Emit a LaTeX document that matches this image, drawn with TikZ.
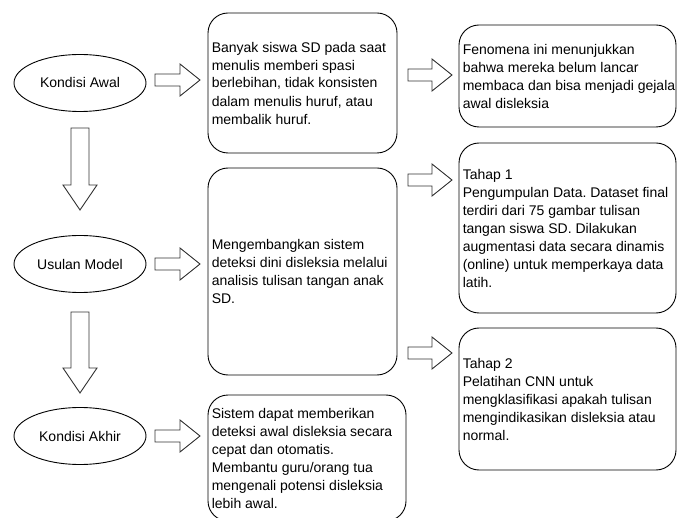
\documentclass[tikz,border=0pt]{standalone}
\usepackage{fontspec}
\setmainfont{Liberation Sans}
\usetikzlibrary{shapes.geometric}
\frenchspacing
\begin{document}
\begin{tikzpicture}[x=1pt,y=-1pt,
  txt/.style={font=\fontsize{14}{18}\selectfont},
  ell/.style={ellipse,draw=black,line width=0.9pt,minimum width=132pt,minimum height=57pt,inner sep=0pt,txt},
  box/.style={draw=black,line width=0.9pt,rounded corners=20pt,inner sep=0pt},
  btxt/.style={txt,align=left,anchor=west,inner sep=0pt,xshift=4pt},
  blk/.style={draw=black!80,line width=0.9pt,fill=white,line join=miter}]
\useasboundingbox (0,0) rectangle (677,518);
\clip (0,0) rectangle (677,518);
% horizontal block arrow: tail x, centre y, length
\newcommand{\harr}[3]{\draw[blk] (#1,#2-6) -- (#1+#3-20,#2-6) -- (#1+#3-20,#2-16) -- (#1+#3,#2) -- (#1+#3-20,#2+16) -- (#1+#3-20,#2+6) -- (#1,#2+6) -- cycle;}
% vertical block arrow: centre x, top y, bottom y
\newcommand{\varr}[3]{\draw[blk] (#1-9,#2) -- (#1+9,#2) -- (#1+9,#3-25) -- (#1+17,#3-25) -- (#1,#3) -- (#1-17,#3-25) -- (#1-9,#3-25) -- (#1-9,#2) -- cycle;}

\node[ell] (ka) at (80,83) {Kondisi Awal};
\node[ell] (um) at (80,264) {Usulan Model};
\node[ell] (kk) at (80,436) {Kondisi Akhir};

\node[box,minimum width=189pt,minimum height=140pt] (b1) at (302.5,83) {};
\node[btxt] at (b1.west) {Banyak siswa SD pada saat\\menulis memberi spasi\\berlebihan, tidak konsisten\\dalam menulis huruf, atau\\membalik huruf.};

\node[box,minimum width=189pt,minimum height=207pt] (b2) at (302.5,271.5) {};
\node[btxt] at (b2.west) {Mengembangkan sistem\\deteksi dini disleksia melalui\\analisis tulisan tangan anak\\SD.};

\node[box,minimum width=198pt,minimum height=126pt] (b3) at (307,458) {};
\node[btxt] at (b3.west) {Sistem dapat memberikan\\deteksi awal disleksia secara\\cepat dan otomatis.\\Membantu guru/orang tua\\mengenali potensi disleksia\\lebih awal.};

\node[box,minimum width=217pt,minimum height=102pt] (f) at (567.5,76) {};
\node[btxt] at (f.west) {Fenomena ini menunjukkan\\bahwa mereka belum lancar\\membaca dan bisa menjadi gejala\\awal disleksia};

\node[box,minimum width=217pt,minimum height=170pt] (t1) at (567.5,228) {};
\node[btxt] at (t1.west) {Tahap 1\\Pengumpulan Data. Dataset final\\terdiri dari 75 gambar tulisan\\tangan siswa SD. Dilakukan\\augmentasi data secara dinamis\\(online) untuk memperkaya data\\latih.};

\node[box,minimum width=217pt,minimum height=142pt] (t2) at (567.5,399) {};
\node[btxt] at (t2.west) {Tahap 2\\Pelatihan CNN untuk\\mengklasifikasi apakah tulisan\\mengindikasikan disleksia atau\\normal.};

\harr{155}{80}{45}
\harr{408}{75}{44}
\harr{155}{264}{45}
\harr{408}{180}{44}
\harr{408}{353}{44}
\harr{155}{436}{45}
\varr{80}{128}{210}
\varr{80}{312}{393}
\end{tikzpicture}
\end{document}
